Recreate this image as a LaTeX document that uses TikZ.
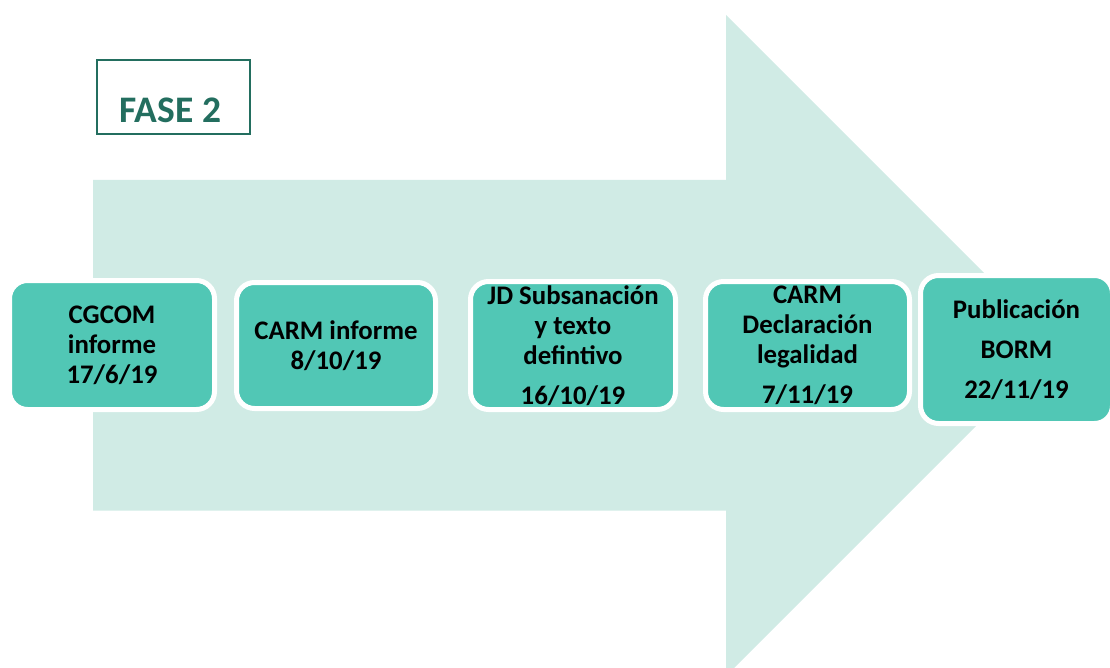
\documentclass[tikz,border=0pt]{standalone}
\usepackage{fontspec}
\setmainfont{Carlito}
\definecolor{arrowbg}{HTML}{D0EBE5}
\definecolor{boxfill}{HTML}{51C7B5}
\definecolor{fasegreen}{HTML}{236E5F}
\tikzset{
  stagebox/.style={rectangle, rounded corners=18pt, fill=boxfill, draw=white,
    line width=5pt, align=center, inner sep=0pt,
    font=\fontsize{26.8}{30}\selectfont\bfseries, text=black},
}
\begin{document}
\begin{tikzpicture}[x=1pt,y=-1pt]
\useasboundingbox (0,0) rectangle (1110,668);
\clip (0,0) rectangle (1110,668);
% big arrow
\fill[arrowbg] (93,180) -- (726,180) -- (726,15) -- (1056.5,345.5) -- (726,676)
  -- (726,510.5) -- (93,510.5) -- cycle;
% FASE 2 label
\node[draw=fasegreen, line width=2pt, minimum width=153pt, minimum height=74pt,
  inner sep=0pt] (fase) at (173.5,97) {};
\node[anchor=base, text=fasegreen, font=\fontsize{37.5}{40}\selectfont\bfseries]
  (fasetxt) at (170.5,123) {FASE 2};
% stages
\node[stagebox, minimum width=205pt, minimum height=129pt] (s1) at (112,345)
  {CGCOM\\informe\\17/6/19};
\node[stagebox, minimum width=199pt, minimum height=126pt] (s2) at (336,345.5)
  {CARM informe\\8/10/19};
\node[stagebox, minimum width=205pt, minimum height=128pt] (s3) at (573,345.5)
  {JD Subsanación\\y texto\\defintivo\\[10pt]16/10/19};
\node[stagebox, minimum width=204pt, minimum height=128pt] (s4) at (807.5,345.5)
  {CARM\\Declaración\\legalidad\\[10pt]7/11/19};
\node[stagebox, minimum width=192pt, minimum height=148pt] (s5) at (1016.5,349.5)
  {Publicación\\[10pt]BORM\\[10pt]22/11/19};
\end{tikzpicture}
\end{document}
